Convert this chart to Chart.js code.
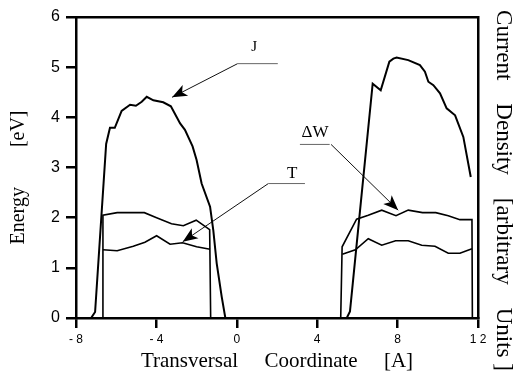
<!DOCTYPE html>
<html>
<head>
<meta charset="utf-8">
<script src="https://cdn.jsdelivr.net/npm/chart.js@4"></script>
<style>
html,body{margin:0;padding:0;background:#fff;}
#c{display:block;}
</style>
</head>
<body>
<canvas id="c" width="515" height="374"></canvas>
<script>
// ---- data ----
const jLeftX  = [-7.25,-7.05,-6.5,-6.31,-6.07,-5.73,-5.31,-5.02,-4.73,-4.48,-4.15,-3.66,-3.28,-2.82,-2.58,-2.2,-2.0,-1.75,-1.33,-1.17,-1.0,-0.75,-0.57];
const jLeftY  = [0,0.12,3.47,3.79,3.79,4.13,4.25,4.23,4.31,4.41,4.34,4.30,4.22,3.88,3.75,3.42,3.15,2.68,2.22,1.75,1.09,0.42,0];
const jRightX = [5.47,5.63,5.77,6.76,7.16,7.59,7.79,7.95,8.53,9.11,9.36,9.53,9.78,10.11,10.44,10.86,11.27,11.64];
const jRightY = [0,0.13,0.69,4.67,4.54,5.11,5.17,5.19,5.14,5.04,4.91,4.71,4.64,4.48,4.18,4.04,3.61,2.81];

const dWLeftX = [-6.66,-6.66,-5.95,-4.6,-3.99,-3.25,-2.66,-2.02,-1.35,-1.3];
const dWLeftY = [0,2.05,2.1,2.1,2.0,1.88,1.84,1.95,1.76,0];
const tLeftX  = [-6.66,-5.95,-5.15,-4.57,-3.99,-3.32,-2.7,-2.0,-1.33];
const tLeftY  = [1.36,1.34,1.43,1.51,1.64,1.47,1.50,1.42,1.37];

const dWRightX = [5.17,5.24,5.96,6.54,7.21,7.92,8.53,9.24,9.9,10.52,11.1,11.7,11.72];
const dWRightY = [0,1.42,1.97,2.05,2.15,2.04,2.15,2.10,2.10,2.04,1.96,1.96,0];
const tRightX  = [5.25,5.9,6.54,7.21,7.9,8.53,9.2,9.86,10.52,11.1,11.7];
const tRightY  = [1.27,1.36,1.58,1.45,1.54,1.54,1.45,1.43,1.29,1.29,1.38];

const xTickValues = [-8,-4,0,4,8,12];
const xTickLabels = ['- 8','- 4','0','4','8','1 2'];
const yTickValues = [0,1,2,3,4,5,6];

// annotations
const noteText   = ['J','\u0394W','T'];
const noteX      = [0.86, 3.89, 2.75];
const noteY      = [5.40, 3.705, 2.87];
const noteSize   = [15, 17, 17];
const underX0    = [0.04, 3.14, 1.57];
const underX1    = [2.04, 4.62, 3.39];
const underY     = [5.07, 3.46, 2.68];
const arrowFromX = [0.04, 4.69, 1.57];
const arrowFromY = [5.07, 3.46, 2.68];
const arrowTipX  = [-3.22, 8.03, -2.69];
const arrowTipY  = [4.40, 2.15, 1.52];

function pts(xs, ys){ return xs.map((x,i)=>({x:x, y:ys[i]})); }

const curveDs = (xs, ys, w) => ({data: pts(xs, ys), borderColor:'#000', borderWidth:w, showLine:true, pointRadius:0, tension:0, fill:false});

const datasets = [
  curveDs(jLeftX, jLeftY, 2),
  curveDs(jRightX, jRightY, 2),
  curveDs(dWLeftX, dWLeftY, 1.6),
  curveDs(tLeftX, tLeftY, 1.6),
  curveDs(dWRightX, dWRightY, 1.6),
  curveDs(tRightX, tRightY, 1.6)
];
for (let i = 0; i < noteText.length; i++) {
  datasets.push({data: pts([underX0[i], underX1[i]], [underY[i], underY[i]]), borderColor:'#666', borderWidth:1, showLine:true, pointRadius:0, clip:false});
  datasets.push({data: pts([arrowFromX[i], arrowTipX[i]], [arrowFromY[i], arrowTipY[i]]), borderColor:'#111', borderWidth:1, showLine:true, pointRadius:0, clip:false});
}

const notesPlugin = {
  id: 'notes',
  afterDatasetsDraw(chart) {
    const ctx = chart.ctx, sx = chart.scales.x, sy = chart.scales.y;
    ctx.save();
    for (let i = 0; i < noteText.length; i++) {
      const x0 = sx.getPixelForValue(arrowFromX[i]), y0 = sy.getPixelForValue(arrowFromY[i]);
      const x1 = sx.getPixelForValue(arrowTipX[i]), y1 = sy.getPixelForValue(arrowTipY[i]);
      const a = Math.atan2(y1 - y0, x1 - x0);
      const L = 15, W = 6;
      const bx = x1 - L*Math.cos(a), by = y1 - L*Math.sin(a);
      const nx = x1 - L*0.75*Math.cos(a), ny = y1 - L*0.75*Math.sin(a);
      ctx.beginPath();
      ctx.moveTo(x1, y1);
      ctx.lineTo(bx - W*Math.sin(a), by + W*Math.cos(a));
      ctx.lineTo(nx, ny);
      ctx.lineTo(bx + W*Math.sin(a), by - W*Math.cos(a));
      ctx.closePath();
      ctx.fillStyle = '#000';
      ctx.fill();
      ctx.font = noteSize[i] + 'px "Liberation Serif", "Times New Roman", serif';
      ctx.textAlign = 'center';
      ctx.textBaseline = 'middle';
      ctx.fillText(noteText[i], sx.getPixelForValue(noteX[i]), sy.getPixelForValue(noteY[i]));
    }
    ctx.restore();
  }
};

const serif = '"Liberation Serif", "Times New Roman", serif';
const sans = '"Liberation Sans", Arial, sans-serif';

new Chart(document.getElementById('c'), {
  type: 'scatter',
  data: { datasets },
  plugins: [notesPlugin],
  options: {
    responsive: false,
    animation: false,
    devicePixelRatio: 1,
    layout: { padding: 0 },
    plugins: { legend: {display:false}, tooltip: {enabled:false} },
    scales: {
      x: {
        type: 'linear', position: 'bottom', min: -8, max: 12,
        afterBuildTicks: s => { s.ticks = xTickValues.map(v => ({value: v})); },
        afterFit: s => { s.height = 56; },
        ticks: { callback: (v, i) => xTickLabels[i], color:'#000', font:{family:sans, size:12}, padding:4, maxRotation:0, minRotation:0, autoSkip:false },
        grid: { display:true, drawOnChartArea:false, drawTicks:true, tickLength:10, color:'#000', lineWidth:2.5 },
        border: { display:true, color:'#000', width:2.5 },
        title: { display:true, text:'Transversal     Coordinate     [A]', color:'#000', font:{family:serif, size:21, lineHeight:1.2}, padding:{top:0,bottom:0} }
      },
      x2: {
        type: 'linear', position: 'top', min: -8, max: 12,
        afterFit: s => { s.height = 17; },
        ticks: { display:false },
        grid: { display:false },
        border: { display:true, color:'#000', width:2.5 }
      },
      y: {
        type: 'linear', position: 'left', min: 0, max: 6,
        afterBuildTicks: s => { s.ticks = yTickValues.map(v => ({value: v})); },
        afterFit: s => { s.width = 76; },
        ticks: { color:'#000', font:{family:sans, size:16}, padding:6 },
        grid: { display:true, drawOnChartArea:false, drawTicks:true, tickLength:10, color:'#000', lineWidth:2.5 },
        border: { display:true, color:'#000', width:2.5 },
        title: { display:true, text:'Energy        [eV]    ', color:'#000', font:{family:serif, size:20, lineHeight:1.2}, padding:{top:6.5,bottom:0} }
      },
      y2: {
        type: 'linear', position: 'right', min: 0, max: 6,
        afterFit: s => { s.width = 37; },
        ticks: { display:false },
        grid: { display:false },
        border: { display:true, color:'#000', width:2.5 },
        title: { display:true, text:'        Current    Density    [arbitrary    Units ]', color:'#000', font:{family:serif, size:23, lineHeight:1}, padding:{top:0,bottom:0} }
      }
    }
  }
});
</script>
</body>
</html>
